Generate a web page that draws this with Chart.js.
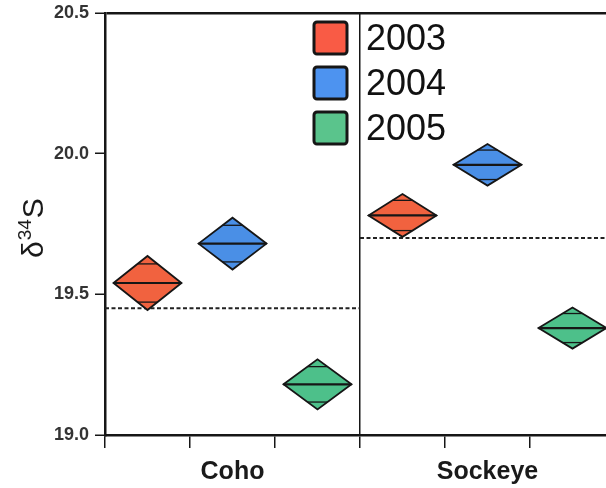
<!DOCTYPE html>
<html>
<head>
<meta charset="utf-8">
<script src="https://cdn.jsdelivr.net/npm/chart.js@4.4.1/dist/chart.umd.min.js"></script>
<style>
  body { margin: 0; overflow: hidden; background: #fff; }
  #wrap { width: 625px; height: 492px; margin-top: -4px; }
</style>
</head>
<body>
<div id="wrap"><canvas id="d34s" width="625" height="492"></canvas></div>
<script>
// ------- Data -------
const groups = ["Coho", "Sockeye"];
const years = ["2003", "2004", "2005"];
// group means per year, and half height of each means diamond (95% CI)
const cohoMeans = [19.54, 19.68, 19.18];
const cohoHalf = [0.096, 0.092, 0.089];
const sockeyeMeans = [19.78, 19.96, 19.38];
const sockeyeHalf = [0.076, 0.074, 0.073];
// overall mean of each species (dashed lines)
const groupMeans = [19.45, 19.70];
const yTicks = [19.0, 19.5, 20.0, 20.5];

const meansByGroup = [cohoMeans, sockeyeMeans];
const halfByGroup = [cohoHalf, sockeyeHalf];

// ------- Styles -------
const FONT = "'Liberation Sans', Arial, Helvetica, sans-serif";
const fillColors = ["#f1623f", "#4a8fe6", "#4dc08a"];
const legendColors = ["#f95b45", "#4d93f0", "#5ac48c"];
const INK = "#161616";

// tick positions on x: group edges and sub columns, plus label spots
let xTickValues = [];
for (let i = 0; i <= groups.length * years.length; i++) xTickValues.push(i);
groups.forEach((g, gi) => xTickValues.push(gi * years.length + years.length / 2));
xTickValues.sort((a, b) => a - b);

function groupLabel(v) {
  let gi = groups.findIndex((g, i) => i * years.length + years.length / 2 === v);
  return gi >= 0 ? groups[gi] : "";
}

// ------- Means diamonds -------
const diamondPlugin = {
  id: "diamonds",
  afterDatasetsDraw(chart) {
    const { ctx } = chart;
    const xs = chart.scales.x, ys = chart.scales.y;
    groups.forEach((g, gi) => {
      years.forEach((yr, i) => {
        let m = meansByGroup[gi][i], h = halfByGroup[gi][i];
        let cx = gi * years.length + i + 0.5;
        let xl = xs.getPixelForValue(cx - 0.4),
          xc = xs.getPixelForValue(cx),
          xr = xs.getPixelForValue(cx + 0.4),
          ym = ys.getPixelForValue(m),
          yt = ys.getPixelForValue(m + h),
          yb = ys.getPixelForValue(m - h);
        ctx.save();
        ctx.beginPath();
        ctx.moveTo(xl, ym);
        ctx.lineTo(xc, yt);
        ctx.lineTo(xr, ym);
        ctx.lineTo(xc, yb);
        ctx.closePath();
        ctx.fillStyle = fillColors[i];
        ctx.fill();
        ctx.lineWidth = 1.8;
        ctx.strokeStyle = INK;
        ctx.lineJoin = "miter";
        ctx.stroke();
        // mean line
        ctx.beginPath();
        ctx.moveTo(xl, ym);
        ctx.lineTo(xr, ym);
        ctx.lineWidth = 2.2;
        ctx.stroke();
        // overlap marks
        let f = Math.SQRT1_2;
        let hw = (xr - xl) / 2 * (1 - f);
        [m + h * f, m - h * f].forEach((v) => {
          let yy = ys.getPixelForValue(v);
          ctx.beginPath();
          ctx.moveTo(xc - hw, yy);
          ctx.lineTo(xc + hw, yy);
          ctx.lineWidth = 1.3;
          ctx.stroke();
        });
        ctx.restore();
      });
    });
  },
};

// ------- Legend + y title -------
const extrasPlugin = {
  id: "extras",
  afterDraw(chart) {
    const { ctx } = chart;
    ctx.save();
    years.forEach((yr, i) => {
      let top = 26 + i * 45;
      ctx.beginPath();
      ctx.roundRect(314, top, 33, 32, 3);
      ctx.fillStyle = legendColors[i];
      ctx.fill();
      ctx.lineWidth = 3;
      ctx.strokeStyle = INK;
      ctx.stroke();
      ctx.fillStyle = "#111";
      ctx.font = "36px " + FONT;
      ctx.textBaseline = "middle";
      ctx.fillText(yr, 366, top + 18);
    });

    // δ34S, rotated
    ctx.translate(43, 262);
    ctx.rotate(-Math.PI / 2);
    ctx.fillStyle = "#1a1a1a";
    ctx.textBaseline = "alphabetic";
    ctx.font = "30px " + FONT;
    ctx.fillText("δ", 0, 0);
    let w = ctx.measureText("δ").width;
    ctx.font = "19px " + FONT;
    ctx.fillText("34", w + 1, -12);
    w += ctx.measureText("34").width + 2;
    ctx.font = "30px " + FONT;
    ctx.fillText("S", w, 0);
    ctx.restore();
  },
};

// ------- Chart -------
const meanLines = groupMeans.map((v, gi) => ({
  data: [
    { x: gi * years.length, y: v },
    { x: (gi + 1) * years.length, y: v },
  ],
  showLine: true,
  borderColor: "#222",
  borderWidth: 2,
  borderDash: [4, 2.5],
  pointRadius: 0,
}));

new Chart("d34s", {
  type: "scatter",
  data: { datasets: meanLines },
  options: {
    responsive: false,
    animation: false,
    layout: { padding: { top: 8, right: 10, left: 0, bottom: 0 } },
    plugins: { legend: { display: false }, tooltip: { enabled: false } },
    scales: {
      x: {
        type: "linear",
        min: 0,
        max: groups.length * years.length,
        afterBuildTicks: (s) => {
          s.ticks = xTickValues.map((v) => ({ value: v }));
        },
        afterFit: (s) => {
          s.height = 53;
        },
        ticks: {
          autoSkip: false,
          maxRotation: 0,
          padding: 9,
          color: "#1a1a1a",
          font: { family: FONT, size: 25, weight: "bold" },
          callback: (v) => groupLabel(v),
        },
        grid: {
          color: (c) => (c.tick && c.tick.value === years.length ? INK : "transparent"),
          lineWidth: 1.5,
          tickLength: 13,
          tickWidth: 1.5,
          tickColor: (c) => (c.tick && Number.isInteger(c.tick.value) ? INK : "transparent"),
        },
        border: { color: INK, width: 2.5 },
      },
      y: {
        min: 19,
        max: 20.5,
        afterBuildTicks: (s) => {
          s.ticks = yTicks.map((v) => ({ value: v }));
        },
        afterFit: (s) => {
          s.width = 105;
        },
        ticks: {
          padding: 6,
          color: "#333",
          font: { family: FONT, size: 18, weight: "bold" },
          callback: (v) => v.toFixed(1),
        },
        grid: {
          color: (c) => (c.tick && c.tick.value === 20.5 ? INK : "transparent"),
          lineWidth: 2.5,
          tickLength: 10,
          tickWidth: 1.5,
          tickColor: INK,
        },
        border: { color: INK, width: 2.5 },
      },
    },
  },
  plugins: [diamondPlugin, extrasPlugin],
});
</script>
</body>
</html>
